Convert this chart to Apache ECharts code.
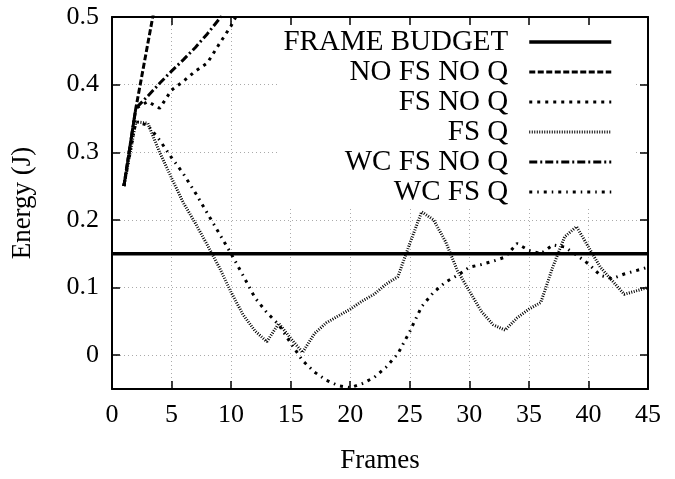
<!DOCTYPE html>
<html><head><meta charset="utf-8">
<script src="https://cdn.jsdelivr.net/npm/echarts@6/dist/echarts.min.js"></script>
<style>html,body{margin:0;padding:0;background:#fff}#c{width:675px;height:479px}</style>
</head><body><div id="c"></div>
<script>
const frames = [1,2,3,4,5,6,7,8,9,10,11,12,13,14,15,16,17,18,19,20,21,22,23,24,25,26,27,28,29,30,31,32,33,34,35,36,37,38,39,40,41,42,43,44,45];
const budgetFrames = [0, 45];
const frameBudget = [0.15, 0.15];
const noFsNoQ = [0.25, 0.365, 0.46, 0.555];
const fsNoQ = [0.25, 0.365, 0.375, 0.365, 0.392, 0.405, 0.42, 0.432, 0.46, 0.487, 0.52];
const fsQ = [0.25, 0.345, 0.343, 0.3, 0.262, 0.225, 0.195, 0.163, 0.13, 0.093, 0.06, 0.036, 0.02, 0.047, 0.025,
             0.004, 0.032, 0.048, 0.058, 0.068, 0.08, 0.09, 0.105, 0.116, 0.165, 0.212, 0.2, 0.168, 0.125, 0.095,
             0.065, 0.045, 0.037, 0.055, 0.068, 0.078, 0.13, 0.175, 0.19, 0.16, 0.13, 0.11, 0.09, 0.095, 0.1];
const wcFsNoQ = [0.25, 0.365, 0.383, 0.402, 0.42, 0.437, 0.455, 0.475, 0.497, 0.52];
const wcFsQ = [0.25, 0.345, 0.34, 0.318, 0.292, 0.268, 0.24, 0.21, 0.18, 0.15, 0.118, 0.085, 0.063, 0.045, 0.018,
               -0.008, -0.025, -0.037, -0.045, -0.048, -0.042, -0.033, -0.018, 0.002, 0.035, 0.072, 0.093, 0.108, 0.118, 0.13,
               0.134, 0.139, 0.145, 0.165, 0.155, 0.15, 0.163, 0.16, 0.148, 0.135, 0.118, 0.113, 0.12, 0.125, 0.13];
const xTicks = [0, 5, 10, 15, 20, 25, 30, 35, 40, 45];
const yTicks = [0, 0.1, 0.2, 0.3, 0.4, 0.5];

const FONT = 'Liberation Serif';
function pairs(xs, ys) { return ys.map((v, i) => [xs[i], v]); }
function mkSeries(name, xs, ys, width, dash) {
  return {
    name, type: 'line', data: pairs(xs, ys), symbol: 'none', clip: true,
    xAxisIndex: 0, yAxisIndex: 0,
    lineStyle: { color: '#000', width, type: dash, cap: 'butt' },
    itemStyle: { color: '#000' }
  };
}
const chart = echarts.init(document.getElementById('c'));
const axisLineStyle = { show: true, onZero: false, lineStyle: { color: '#000', width: 2 } };
const tickStyle = { show: true, inside: true, length: 8, lineStyle: { color: '#000', width: 1.5 } };
chart.setOption({
  animation: false,
  backgroundColor: '#fff',
  grid: { left: 112, right: 27, top: 17, bottom: 89 },
  xAxis: [
    { type: 'value', position: 'bottom', min: xTicks[0], max: xTicks[xTicks.length - 1], interval: 5,
      axisLine: axisLineStyle, axisTick: tickStyle,
      axisLabel: { color: '#000', fontFamily: FONT, fontSize: 26, margin: 13 },
      splitLine: { show: true, lineStyle: { color: '#aaa', width: 1, type: [1, 3] } },
      name: 'Frames', nameLocation: 'middle', nameGap: 58,
      nameTextStyle: { color: '#000', fontFamily: FONT, fontSize: 27 } },
    { type: 'value', position: 'top', z: 6, min: xTicks[0], max: xTicks[xTicks.length - 1], interval: 5,
      axisLine: axisLineStyle, axisTick: tickStyle, axisLabel: { show: false }, splitLine: { show: false } }
  ],
  yAxis: [
    { type: 'value', position: 'left', min: -0.05, max: yTicks[yTicks.length - 1], splitNumber: 5,
      axisLine: axisLineStyle, axisTick: tickStyle,
      axisLabel: { color: '#000', fontFamily: FONT, fontSize: 26, margin: 13, showMinLabel: false },
      splitLine: { show: true, lineStyle: { color: '#aaa', width: 1, type: [1, 3] } },
      name: 'Energy (J)', nameLocation: 'middle', nameGap: 76, nameRotate: 90,
      nameTextStyle: { color: '#000', fontFamily: FONT, fontSize: 27 } },
    { type: 'value', position: 'right', z: 6, min: -0.05, max: yTicks[yTicks.length - 1], splitNumber: 5,
      axisLine: axisLineStyle, axisTick: tickStyle, axisLabel: { show: false }, splitLine: { show: false } }
  ],
  legend: {
    orient: 'vertical', align: 'right', right: 40, top: 17,
    padding: [10, 22, 0, 4], itemGap: 0, itemWidth: 82, itemHeight: 14,
    backgroundColor: '#fff',
    textStyle: { fontFamily: FONT, fontSize: 29, color: '#000', lineHeight: 30, padding: [0, 16, 0, 0] },
    itemStyle: { opacity: 0 },
    lineStyle: { width: 'inherit' },
    data: ['FRAME BUDGET', 'NO FS NO Q', 'FS NO Q', 'FS Q', 'WC FS NO Q', 'WC FS Q']
  },
  series: [
    mkSeries('FRAME BUDGET', budgetFrames, frameBudget, 3.5, 'solid'),
    mkSeries('NO FS NO Q', frames, noFsNoQ, 3, [6, 2.5]),
    mkSeries('FS NO Q', frames, fsNoQ, 3, [3, 5]),
    mkSeries('FS Q', frames, fsQ, 3, [1, 1.5]),
    mkSeries('WC FS NO Q', frames, wcFsNoQ, 3, [8, 3, 2, 3]),
    mkSeries('WC FS Q', frames, wcFsQ, 3, [3, 5, 1.5, 5])
  ]
});
</script>
</body></html>
